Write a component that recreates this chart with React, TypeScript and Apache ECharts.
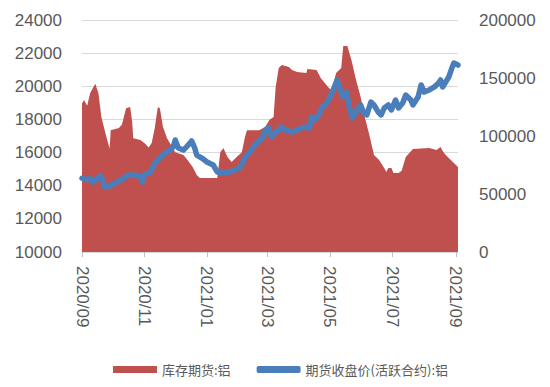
import React, { useEffect, useRef } from "react";
import * as echarts from "echarts";

const inventoryName = "库存期货:铝";
const priceName = "期货收盘价(活跃合约):铝";

const tickLabels = ["2020/09", "2020/11", "2021/01", "2021/03", "2021/05", "2021/07", "2021/09"];
const axisStart = "2020-09-01";
const axisEnd = "2021-09-03";

const inventoryDates = [
  "2020-09-01", "2020-09-03", "2020-09-06", "2020-09-09", "2020-09-12", "2020-09-14", "2020-09-17",
  "2020-09-20", "2020-09-24", "2020-09-28", "2020-09-29", "2020-10-07", "2020-10-10", "2020-10-14",
  "2020-10-18", "2020-10-20", "2020-10-21", "2020-10-28", "2020-11-02", "2020-11-05", "2020-11-08",
  "2020-11-11", "2020-11-14", "2020-11-16", "2020-11-19", "2020-11-23", "2020-12-01", "2020-12-09",
  "2020-12-13", "2020-12-18", "2020-12-22", "2020-12-25", "2021-01-11", "2021-01-14", "2021-01-17",
  "2021-01-21", "2021-01-25", "2021-01-30", "2021-02-04", "2021-02-07", "2021-02-09", "2021-02-21",
  "2021-02-27", "2021-03-03", "2021-03-07", "2021-03-09", "2021-03-12", "2021-03-15", "2021-03-22",
  "2021-03-25", "2021-03-30", "2021-04-08", "2021-04-09", "2021-04-18", "2021-04-22", "2021-04-30",
  "2021-05-03", "2021-05-07", "2021-05-12", "2021-05-14", "2021-05-18", "2021-05-22", "2021-05-26",
  "2021-05-31", "2021-06-03", "2021-06-08", "2021-06-13", "2021-06-18", "2021-06-23", "2021-06-25",
  "2021-06-27", "2021-06-30", "2021-07-02", "2021-07-07", "2021-07-10", "2021-07-14", "2021-07-21",
  "2021-08-06", "2021-08-13", "2021-08-17", "2021-08-19", "2021-08-22", "2021-08-27", "2021-09-01",
  "2021-09-03",
];
const inventoryValues = [
  128000, 131000, 126000, 137000, 142000, 145000, 137000,
  116000, 102000, 89000, 105000, 107000, 110000, 124000,
  125000, 112000, 98000, 96500, 93000, 90000, 94000,
  107000, 125000, 124000, 108000, 98000, 86000, 83600,
  79300, 73300, 66400, 63800, 63800, 86000, 89700,
  82000, 77600, 82000, 86000, 99000, 105000, 105000,
  108000, 114000, 116400, 142000, 158600, 161200, 159500,
  157000, 155200, 154300, 157800, 157000, 150000, 141400,
  139700, 154300, 158600, 177600, 177600, 165500, 150000,
  133600, 119800, 102600, 83600, 79300, 72400, 69000,
  72400, 72400, 68100, 68100, 70000, 81900, 88800,
  89700, 87900, 90500, 87000, 83600, 79300, 75000,
  73300,
];

const priceDates = [
  "2020-09-01", "2020-09-06", "2020-09-09", "2020-09-12", "2020-09-15", "2020-09-19", "2020-09-21",
  "2020-09-23", "2020-09-28", "2020-10-03", "2020-10-09", "2020-10-16", "2020-10-23", "2020-10-28",
  "2020-10-30", "2020-11-01", "2020-11-06", "2020-11-08", "2020-11-11", "2020-11-16", "2020-11-21",
  "2020-11-26", "2020-11-29", "2020-12-01", "2020-12-04", "2020-12-09", "2020-12-12", "2020-12-17",
  "2020-12-20", "2020-12-22", "2020-12-27", "2021-01-01", "2021-01-07", "2021-01-11", "2021-01-16",
  "2021-01-23", "2021-01-28", "2021-02-02", "2021-02-07", "2021-02-11", "2021-02-17", "2021-02-24",
  "2021-02-27", "2021-03-02", "2021-03-05", "2021-03-09", "2021-03-12", "2021-03-15", "2021-03-18",
  "2021-03-22", "2021-03-25", "2021-03-30", "2021-04-03", "2021-04-08", "2021-04-11", "2021-04-13",
  "2021-04-16", "2021-04-20", "2021-04-23", "2021-04-28", "2021-05-03", "2021-05-08", "2021-05-12",
  "2021-05-14", "2021-05-17", "2021-05-20", "2021-05-23", "2021-05-26", "2021-05-31", "2021-06-03",
  "2021-06-06", "2021-06-10", "2021-06-13", "2021-06-17", "2021-06-20", "2021-06-23", "2021-06-27",
  "2021-06-30", "2021-07-04", "2021-07-07", "2021-07-11", "2021-07-14", "2021-07-19", "2021-07-21",
  "2021-07-26", "2021-07-29", "2021-08-01", "2021-08-06", "2021-08-11", "2021-08-15", "2021-08-17",
  "2021-08-19", "2021-08-22", "2021-08-25", "2021-08-28", "2021-08-30", "2021-09-03",
];
const priceValues = [
  14450, 14350, 14450, 14220, 14400, 14590, 14400,
  13920, 13980, 14160, 14350, 14650, 14650, 14530,
  14220, 14700, 14770, 14950, 15370, 15670, 15970,
  16150, 16340, 16760, 16280, 16150, 16340, 16700,
  16280, 15850, 15670, 15430, 15250, 14830, 14770,
  14830, 14950, 15070, 15670, 15970, 16460, 16880,
  17360, 17480, 16940, 17240, 17360, 17540, 17360,
  17300, 17240, 17360, 17480, 17540, 17480, 18150,
  17970, 18270, 18690, 18990, 19600, 20380, 19650,
  19350, 19650, 18750, 18090, 18390, 18870, 18390,
  18270, 19050, 18870, 18450, 18270, 18690, 18870,
  18570, 19170, 18690, 18990, 19470, 19170, 18870,
  19350, 20080, 19650, 19780, 19960, 20200, 20380,
  19960, 20260, 20560, 21100, 21400, 21280,
];

function buildDays(start: string, end: string): string[] {
  const out: string[] = [];
  const s = Date.parse(start + "T00:00:00Z");
  const e = Date.parse(end + "T00:00:00Z");
  for (let t = s; t <= e; t += 86400000) {
    out.push(new Date(t).toISOString().slice(0, 10));
  }
  return out;
}

function toLabel(d: string): string {
  return d.slice(0, 4) + "/" + d.slice(5, 7);
}

function isTickDay(d: string): boolean {
  return d.slice(8, 10) === "01" && tickLabels.indexOf(toLabel(d)) >= 0;
}

export default function App() {
  const ref = useRef<HTMLDivElement>(null);
  useEffect(() => {
    document.body.style.margin = "0";
    if (!ref.current) return;
    const chart = echarts.init(ref.current, undefined, { renderer: "svg" });
    const days = buildDays(axisStart, axisEnd);
    const font = "'Liberation Sans', Arial, sans-serif";
    const plain = (v: number) => String(v);
    chart.setOption({
      animation: false,
      backgroundColor: "#ffffff",
      grid: { left: 82, right: 92, top: 20, bottom: 135, containLabel: false },
      legend: {
        left: 108,
        top: 358,
        itemWidth: 44,
        itemHeight: 7,
        itemGap: 26,
        textStyle: { color: "#595959", fontSize: 13, fontFamily: "'Noto Sans CJK SC', sans-serif" },
        data: [
          { name: inventoryName, icon: "rect" },
          { name: priceName, icon: "roundRect" },
        ],
      },
      xAxis: {
        type: "category",
        data: days,
        boundaryGap: false,
        axisLine: { show: true, lineStyle: { color: "#d9d9d9" } },
        axisTick: {
          show: true,
          length: 5,
          interval: (_i: number, v: string) => isTickDay(v),
          lineStyle: { color: "#bfbfbf" },
        },
        axisLabel: {
          interval: (_i: number, v: string) => isTickDay(v),
          formatter: (v: string) => toLabel(v),
          rotate: -90,
          margin: 14,
          color: "#595959",
          fontSize: 17,
          fontFamily: font,
        },
        splitLine: { show: false },
      },
      yAxis: [
        {
          type: "value",
          min: 10000,
          max: 24000,
          interval: 2000,
          axisLine: { show: false },
          axisTick: { show: false },
          axisLabel: { color: "#595959", fontSize: 17, fontFamily: font, margin: 20, formatter: plain },
          splitLine: { show: true, lineStyle: { color: "#d9d9d9", width: 1 } },
        },
        {
          type: "value",
          min: 0,
          max: 200000,
          interval: 50000,
          axisLine: { show: false },
          axisTick: { show: false },
          axisLabel: { color: "#595959", fontSize: 17, fontFamily: font, margin: 21, formatter: plain },
          splitLine: { show: false },
        },
      ],
      series: [
        {
          name: inventoryName,
          type: "line",
          yAxisIndex: 1,
          symbol: "none",
          color: "#c0504d",
          lineStyle: { width: 0 },
          areaStyle: { color: "#c0504d", opacity: 1 },
          data: inventoryDates.map((d, i) => [d, inventoryValues[i]]),
        },
        {
          name: priceName,
          type: "line",
          yAxisIndex: 0,
          symbol: "none",
          color: "#4a7ebb",
          lineStyle: { width: 5.5, color: "#4a7ebb", cap: "round", join: "round" },
          data: priceDates.map((d, i) => [d, priceValues[i]]),
        },
      ],
    });
    return () => chart.dispose();
  }, []);
  return <div ref={ref} style={{ width: 550, height: 387 }} />;
}
